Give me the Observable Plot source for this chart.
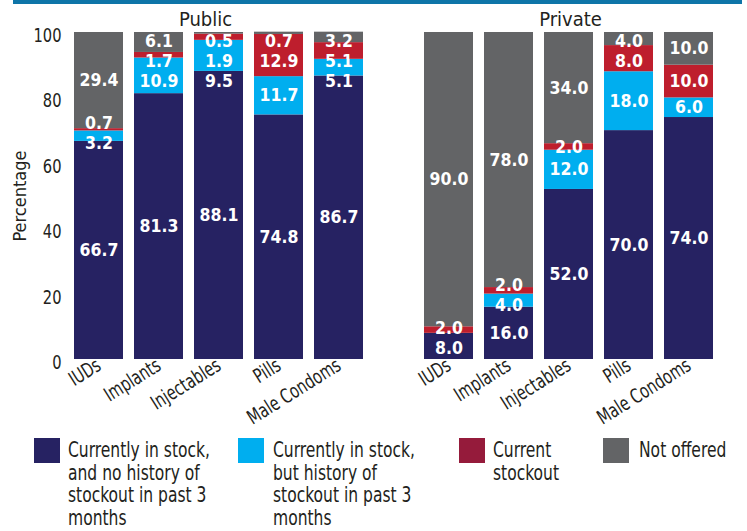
<!DOCTYPE html>
<html>
<head>
<meta charset="utf-8">
<script src="https://cdn.jsdelivr.net/npm/d3@7"></script>
<script src="https://cdn.jsdelivr.net/npm/@observablehq/plot@0.6"></script>
<style>
  html, body { margin: 0; padding: 0; background: #fff; }
  #wrap { position: relative; width: 747px; height: 531px; overflow: hidden; }
  #topbar { position: absolute; left: 13px; top: 0; width: 729px; height: 4px; background: #0e75a8; }
  #legend { position: absolute; left: 0; top: 438px; width: 747px; height: 93px; }
  .item { position: absolute; top: 0; }
  .sw { position: absolute; left: 0; top: 0; width: 26px; height: 25px; }
  .lt { position: absolute; top: 1px; white-space: nowrap; color: #231f20; font-size: 22px; line-height: 22.7px; transform-origin: 0 0; }
</style>
</head>
<body>
<div id="wrap"><div id="topbar"></div><div id="chart"></div><div id="legend"></div></div>
<script>
const sectors = ["Public", "Private"];
const methods = ["IUDs", "Implants", "Injectables", "Pills", "Male Condoms"];
const statuses = [
  "Currently in stock, and no history of stockout in past 3 months",
  "Currently in stock, but history of stockout in past 3 months",
  "Current stockout",
  "Not offered"
];
const legendLines = [
  ["Currently in stock,", "and no history of", "stockout in past 3", "months"],
  ["Currently in stock,", "but history of", "stockout in past 3", "months"],
  ["Current", "stockout"],
  ["Not offered"]
];
// Public sector (%)
const publicInStock    = [66.7, 81.3, 88.1, 74.8, 86.7];
const publicHistory    = [3.2, 10.9, 9.5, 11.7, 5.1];
const publicStockout   = [0.7, 1.7, 1.9, 12.9, 5.1];
const publicNotOffered = [29.4, 6.1, 0.5, 0.7, 3.2];
// Private sector (%)
const privateInStock    = [8.0, 16.0, 52.0, 70.0, 74.0];
const privateHistory    = [0.0, 4.0, 12.0, 18.0, 6.0];
const privateStockout   = [2.0, 2.0, 2.0, 8.0, 10.0];
const privateNotOffered = [90.0, 78.0, 34.0, 4.0, 10.0];
const yTicks = [0, 20, 40, 60, 80, 100];

const barColors = ["#262262", "#00aeef", "#be1e2d", "#636466"];
const legendColors = ["#262262", "#00aeef", "#951b3b", "#636466"];

// font detection
const ctx = document.createElement("canvas").getContext("2d");
function hasFont(f) {
  const t = "Percentage 0123456789 Male Condoms";
  ctx.font = "40px monospace"; const a = ctx.measureText(t).width;
  ctx.font = `40px "${f}", monospace`; const b = ctx.measureText(t).width;
  return a !== b;
}
const cands = ["Liberation Sans Narrow", "DejaVu Sans Condensed", "Roboto Condensed", "Liberation Sans"];
const chosen = cands.find(hasFont) || "sans-serif";
const FF = `"${chosen}", "Liberation Sans", sans-serif`;
document.body.style.fontFamily = FF;
function tw(text, font) { ctx.font = font; return ctx.measureText(text).width; }
// horizontal condensing factors (the reference uses a narrow condensed face)
const fTick = Math.min(1, 28 / tw("100", `20px ${FF}`));
const fBar = Math.min(1, 34 / tw("66.7", `bold 17.5px ${FF}`));
const fTitle = Math.min(1, 45 / tw("Public", `20px ${FF}`));
const fX = Math.min(1, 78 / tw("Injectables", `20px ${FF}`));
const fYl = Math.min(1, 94 / tw("Percentage", `18px ${FF}`));
const fLeg = Math.min(1, 142 / tw("Currently in stock,", `22px ${FF}`));

const table = {
  Public: [publicInStock, publicHistory, publicStockout, publicNotOffered],
  Private: [privateInStock, privateHistory, privateStockout, privateNotOffered]
};

const data = [];
const labels = [];
for (const sector of sectors) {
  methods.forEach((method, i) => {
    let cum = 0;
    const segs = [];
    statuses.forEach((status, k) => {
      const value = table[sector][k][i];
      data.push({sector, method, status, value});
      if (value > 0) segs.push({sector, method, value, mid: cum + value / 2});
      cum += value;
    });
    // simple 1-D label repulsion so stacked labels do not overlap
    const gap = 6.1, lo = 2.2, hi = 97.2;
    let p = segs.map(s => s.mid);
    for (let it = 0; it < 300; it++) {
      for (let j = 0; j < p.length - 1; j++) {
        const d = p[j + 1] - p[j];
        if (d < gap) { const m = (gap - d) / 2; p[j] -= m; p[j + 1] += m; }
      }
      p = p.map(v => Math.max(lo, Math.min(hi, v)));
    }
    segs.forEach((s, j) => labels.push({...s, ly: p[j]}));
  });
}

const chart = Plot.plot({
  width: 747,
  height: 430,
  marginLeft: 66,
  marginRight: 26,
  marginTop: 32,
  marginBottom: 71,
  style: {fontFamily: FF, fontSize: "20px", color: "#231f20", background: "white", overflow: "visible"},
  fx: {domain: sectors, paddingInner: 0.131, paddingOuter: 0, axis: null, label: null},
  x: {domain: methods, paddingInner: 0.19, paddingOuter: 0.095, axis: null},
  y: {domain: [0, 100], axis: null},
  color: {domain: statuses, range: barColors},
  marks: [
    Plot.barY(data, {fx: "sector", x: "method", y: "value", fill: "status"}),
    Plot.text(labels, {fx: "sector", x: "method", y: "ly", text: d => d.value.toFixed(1), fill: "white", fontWeight: "bold", fontSize: 17.5, ariaLabel: "barlabel"}),
    Plot.axisX({tickSize: 0, tickRotate: -32, tickPadding: 4, fontSize: 20, label: null, ariaLabel: "xaxis"}),
    Plot.axisY({ticks: yTicks, tickSize: 0, tickPadding: 5, fontSize: 20, label: null, dy: 3, ariaLabel: "yaxis"}),
    Plot.text(["Percentage"], {fx: ["Public"], text: d => d, frameAnchor: "left", dx: -46, rotate: -90, fontSize: 18, fill: "#231f20", textAnchor: "middle", ariaLabel: "ylabel"}),
    Plot.text(["Public"], {fx: d => d, text: d => d, frameAnchor: "top", lineAnchor: "middle", dy: -13, dx: -13, fontSize: 20, fill: "#231f20", ariaLabel: "title"}),
    Plot.text(["Private"], {fx: d => d, text: d => d, frameAnchor: "top", lineAnchor: "middle", dy: -13, dx: 2, fontSize: 20, fill: "#231f20", ariaLabel: "title"})
  ]
});
document.getElementById("chart").appendChild(chart);

// condense text horizontally to mimic the narrow reference typeface
function squeeze(sel, f) {
  chart.querySelectorAll(sel).forEach(t => {
    const L = t.getComputedTextLength();
    if (L > 0 && f < 1) {
      t.setAttribute("textLength", (L * f).toFixed(2));
      t.setAttribute("lengthAdjust", "spacingAndGlyphs");
    }
  });
}
squeeze('[aria-label="barlabel"] text', fBar);
squeeze('[aria-label^="xaxis"] text', fX);
squeeze('[aria-label^="yaxis"] text', fTick);
squeeze('[aria-label="ylabel"] text', fYl);
squeeze('[aria-label="title"] text', fTitle);

// legend
const lg = document.getElementById("legend");
const itemLeft = [34, 238, 459, 603];
const textLeft = [34, 35, 34, 36];
statuses.forEach((s, k) => {
  const it = document.createElement("div");
  it.className = "item";
  it.style.left = itemLeft[k] + "px";
  const sw = document.createElement("div");
  sw.className = "sw";
  sw.style.background = legendColors[k];
  const tx = document.createElement("div");
  tx.className = "lt";
  tx.style.left = textLeft[k] + "px";
  tx.style.transform = `scaleX(${fLeg})`;
  tx.innerHTML = legendLines[k].join("<br>");
  it.appendChild(sw); it.appendChild(tx);
  lg.appendChild(it);
});
</script>
</body>
</html>
